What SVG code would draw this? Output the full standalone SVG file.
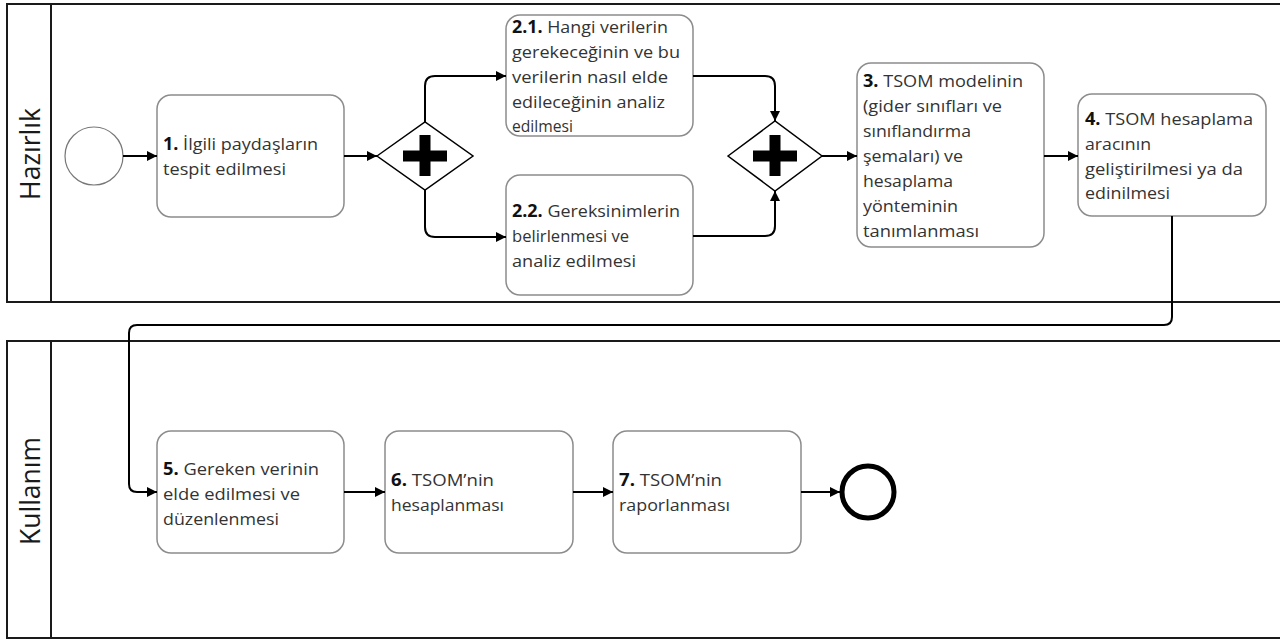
<svg xmlns="http://www.w3.org/2000/svg" width="1280" height="641" viewBox="0 0 1280 641">
  <defs>
    <marker id="arrow" viewBox="0 0 10 10" refX="10" refY="5" markerWidth="10" markerHeight="10" markerUnits="userSpaceOnUse" orient="auto">
      <path d="M0,0 L10,5 L0,10 Z" fill="#000"/>
    </marker>
  </defs>
  <style>
    .lane { fill: #fff; stroke: #1a1a1a; stroke-width: 2; }
    .lane-label { font-family: "Open Sans", "Noto Sans", sans-serif; font-size: 27px; fill: #1a1a1a; text-anchor: middle; }
    .task rect { fill: #fff; stroke: #8c8c8c; stroke-width: 1.5; }
    .task text { font-family: "Open Sans", "Noto Sans", sans-serif; font-size: 17px; fill: #333; }
    .task .num { font-weight: bold; fill: #111; }
    .gw path.d { fill: #fff; stroke: #000; stroke-width: 1.5; }
    .gw rect { fill: #000; }
    .flow { fill: none; stroke: #000; stroke-width: 2; marker-end: url(#arrow); }
  </style>

  <!-- swimlanes -->
  <g id="lane-hazirlik">
    <rect class="lane" x="7" y="4" width="1285" height="298"/>
    <line x1="51" y1="4" x2="51" y2="302" stroke="#1a1a1a" stroke-width="2"/>
    <text class="lane-label" transform="translate(40,154) rotate(-90)" textLength="92" lengthAdjust="spacingAndGlyphs">Hazırlık</text>
  </g>
  <g id="lane-kullanim">
    <rect class="lane" x="7" y="341" width="1285" height="297"/>
    <line x1="51" y1="341" x2="51" y2="638" stroke="#1a1a1a" stroke-width="2"/>
    <text class="lane-label" transform="translate(40,491) rotate(-90)" textLength="108" lengthAdjust="spacingAndGlyphs">Kullanım</text>
  </g>

  <!-- events -->
  <g id="start">
    <circle cx="94" cy="156" r="29" fill="#fff" stroke="#777" stroke-width="1.2"/>
  </g>
  <g id="end">
    <circle cx="868" cy="492" r="26" fill="#fff" stroke="#000" stroke-width="5"/>
  </g>

  <!-- gateways -->
  <g id="gw-split" class="gw">
    <path class="d" d="M377,156 L425,122 L473,156 L425,190 Z"/>
    <rect x="403" y="150.5" width="44" height="11"/>
    <rect x="419.5" y="135" width="11" height="41"/>
  </g>
  <g id="gw-join" class="gw">
    <path class="d" d="M728,156 L775,121 L822,156 L775,191 Z"/>
    <rect x="753" y="150.5" width="44" height="11"/>
    <rect x="769.5" y="135" width="11" height="41"/>
  </g>

  <!-- tasks -->
  <g id="task-1" class="task">
    <rect x="157" y="95" width="187" height="122" rx="14"/>
    <text x="163" y="150" textLength="155" lengthAdjust="spacingAndGlyphs"><tspan class="num">1.</tspan> İlgili paydaşların</text>
    <text x="163" y="175" textLength="123" lengthAdjust="spacingAndGlyphs">tespit edilmesi</text>
  </g>
  <g id="task-2-1" class="task">
    <rect x="506" y="15" width="187" height="121" rx="14"/>
    <text x="512" y="33" textLength="156" lengthAdjust="spacingAndGlyphs"><tspan class="num">2.1.</tspan> Hangi verilerin</text>
    <text x="512" y="58" textLength="168" lengthAdjust="spacingAndGlyphs">gerekeceğinin ve bu</text>
    <text x="512" y="83" textLength="156" lengthAdjust="spacingAndGlyphs">verilerin nasıl elde</text>
    <text x="512" y="108" textLength="153" lengthAdjust="spacingAndGlyphs">edileceğinin analiz</text>
    <text x="512" y="132" textLength="61" lengthAdjust="spacingAndGlyphs">edilmesi</text>
  </g>
  <g id="task-2-2" class="task">
    <rect x="506" y="175" width="187" height="120" rx="14"/>
    <text x="512" y="217" textLength="168" lengthAdjust="spacingAndGlyphs"><tspan class="num">2.2.</tspan> Gereksinimlerin</text>
    <text x="512" y="242" textLength="117" lengthAdjust="spacingAndGlyphs">belirlenmesi ve</text>
    <text x="512" y="267" textLength="124" lengthAdjust="spacingAndGlyphs">analiz edilmesi</text>
  </g>
  <g id="task-3" class="task">
    <rect x="857" y="63" width="187" height="184" rx="14"/>
    <text x="863" y="87" textLength="160" lengthAdjust="spacingAndGlyphs"><tspan class="num">3.</tspan> TSOM modelinin</text>
    <text x="863" y="112" textLength="139" lengthAdjust="spacingAndGlyphs">(gider sınıfları ve</text>
    <text x="863" y="137" textLength="108" lengthAdjust="spacingAndGlyphs">sınıflandırma</text>
    <text x="863" y="162" textLength="100" lengthAdjust="spacingAndGlyphs">şemaları) ve</text>
    <text x="863" y="187" textLength="90" lengthAdjust="spacingAndGlyphs">hesaplama</text>
    <text x="863" y="212" textLength="95" lengthAdjust="spacingAndGlyphs">yönteminin</text>
    <text x="863" y="237" textLength="116" lengthAdjust="spacingAndGlyphs">tanımlanması</text>
  </g>
  <g id="task-4" class="task">
    <rect x="1078" y="94" width="188" height="122" rx="14"/>
    <text x="1085" y="125" textLength="168" lengthAdjust="spacingAndGlyphs"><tspan class="num">4.</tspan> TSOM hesaplama</text>
    <text x="1085" y="150" textLength="66" lengthAdjust="spacingAndGlyphs">aracının</text>
    <text x="1085" y="175" textLength="158" lengthAdjust="spacingAndGlyphs">geliştirilmesi ya da</text>
    <text x="1085" y="199" textLength="85" lengthAdjust="spacingAndGlyphs">edinilmesi</text>
  </g>
  <g id="task-5" class="task">
    <rect x="157" y="431" width="187" height="122" rx="14"/>
    <text x="163" y="475" textLength="156" lengthAdjust="spacingAndGlyphs"><tspan class="num">5.</tspan> Gereken verinin</text>
    <text x="163" y="500" textLength="137" lengthAdjust="spacingAndGlyphs">elde edilmesi ve</text>
    <text x="163" y="525" textLength="116" lengthAdjust="spacingAndGlyphs">düzenlenmesi</text>
  </g>
  <g id="task-6" class="task">
    <rect x="385" y="431" width="188" height="122" rx="14"/>
    <text x="391" y="486" textLength="103" lengthAdjust="spacingAndGlyphs"><tspan class="num">6.</tspan> TSOM’nin</text>
    <text x="391" y="511" textLength="113" lengthAdjust="spacingAndGlyphs">hesaplanması</text>
  </g>
  <g id="task-7" class="task">
    <rect x="613" y="431" width="188" height="122" rx="14"/>
    <text x="619" y="486" textLength="103" lengthAdjust="spacingAndGlyphs"><tspan class="num">7.</tspan> TSOM’nin</text>
    <text x="619" y="511" textLength="111" lengthAdjust="spacingAndGlyphs">raporlanması</text>
  </g>

  <!-- sequence flows -->
  <g id="connectors">
    <path class="flow" d="M123,156 H157"/>
    <path class="flow" d="M344,156 H377"/>
    <path class="flow" d="M425,122 V86 Q425,76 435,76 H506"/>
    <path class="flow" d="M425,190 V227 Q425,237 435,237 H506"/>
    <path class="flow" d="M693,76 H765 Q775,76 775,86 V121"/>
    <path class="flow" d="M693,236 H765 Q775,236 775,226 V191"/>
    <path class="flow" d="M822,156 H857"/>
    <path class="flow" d="M1044,156 H1078"/>
    <path class="flow" d="M1172,216 V317 Q1172,325 1164,325 H137 Q129,325 129,333 V484 Q129,492 137,492 H157"/>
    <path class="flow" d="M344,492 H385"/>
    <path class="flow" d="M573,492 H613"/>
    <path class="flow" d="M801,492 H840"/>
  </g>
</svg>
